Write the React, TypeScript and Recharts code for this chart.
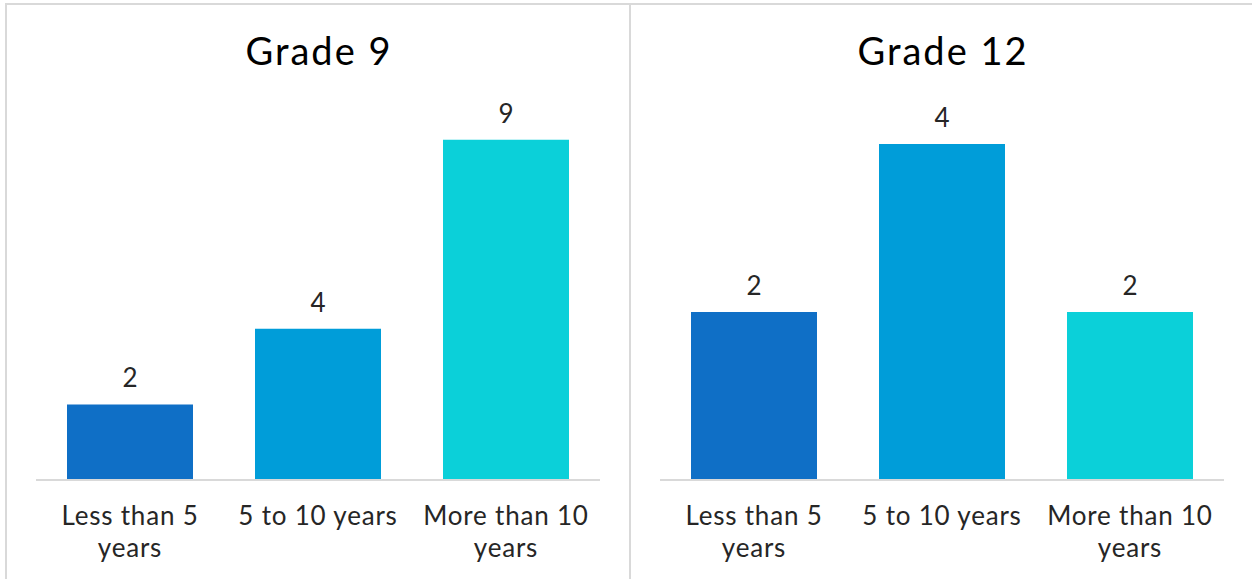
import { Bar, BarChart, Cell, LabelList, XAxis, YAxis } from "recharts";

// category labels, already broken into the lines the reference shows
const categoryLines = [["Less than 5", "years"], ["5 to 10 years"], ["More than 10", "years"]];
const categories = categoryLines.map((l) => l.join(" "));
const grade9Values = [2, 4, 9];
const grade12Values = [2, 4, 2];
const barColors = ["#0F6FC6", "#009DD9", "#0BD0D9"];

const FONT = "Lato, 'Noto Sans', sans-serif";
const TEXT_COLOR = "#262626";
const GRID = "#d9d9d9";

const toRows = (values: number[]) =>
  categories.map((name, i) => ({ name, value: values[i] }));

const WrappedTick = (props: any) => {
  const { x, y, payload } = props;
  const idx = categories.indexOf(payload.value);
  const lines = idx >= 0 ? categoryLines[idx] : [String(payload.value)];
  return (
    <text
      x={x}
      y={y + 45}
      textAnchor="middle"
      fill={TEXT_COLOR}
      style={{ fontFamily: FONT, fontSize: 26, letterSpacing: 0.8 }}
    >
      {lines.map((line, i) => (
        <tspan key={line} x={x} dy={i === 0 ? 0 : 32}>
          {line}
        </tspan>
      ))}
    </text>
  );
};

function Panel({
  title,
  values,
  max,
  left,
  width,
}: {
  title: string;
  values: number[];
  max: number;
  left: number;
  width: number;
}) {
  const rows = toRows(values);
  return (
    <div
      style={{
        position: "absolute",
        left,
        top: 3,
        width,
        height: 600,
        borderTop: `2px solid ${GRID}`,
        borderLeft: `2px solid ${GRID}`,
        background: "#fff",
      }}
    >
      <div
        style={{
          position: "absolute",
          left: 0,
          top: 26,
          width: 624,
          textAlign: "center",
          fontFamily: FONT,
          fontSize: 38,
          lineHeight: "38px",
          letterSpacing: 2,
          color: "#000",
        }}
      >
        {title}
      </div>
      <BarChart
        width={624}
        height={574}
        data={rows}
        margin={{ top: 97, right: 31, bottom: 0, left: 29 }}
      >
        <XAxis
          dataKey="name"
          height={99}
          axisLine={{ stroke: GRID, strokeWidth: 2 }}
          tickLine={false}
          tickSize={0}
          tickMargin={0}
          interval={0}
          tick={<WrappedTick />}
        />
        <YAxis hide domain={[0, max]} allowDataOverflow />
        <Bar dataKey="value" barSize={126} isAnimationActive={false}>
          {rows.map((r, i) => (
            <Cell key={r.name} fill={barColors[i]} />
          ))}
          <LabelList
            dataKey="value"
            position="top"
            offset={17}
            fill={TEXT_COLOR}
            style={{ fontFamily: FONT, fontSize: 26 }}
          />
        </Bar>
      </BarChart>
    </div>
  );
}

export default function App() {
  return (
    <div
      style={{
        position: "fixed",
        left: 0,
        top: 0,
        width: 1252,
        height: 579,
        overflow: "hidden",
        background: "#fff",
      }}
    >
      <Panel title="Grade 9" values={grade9Values} max={10} left={5} width={626} />
      <Panel title="Grade 12" values={grade12Values} max={4.5} left={629} width={640} />
    </div>
  );
}
